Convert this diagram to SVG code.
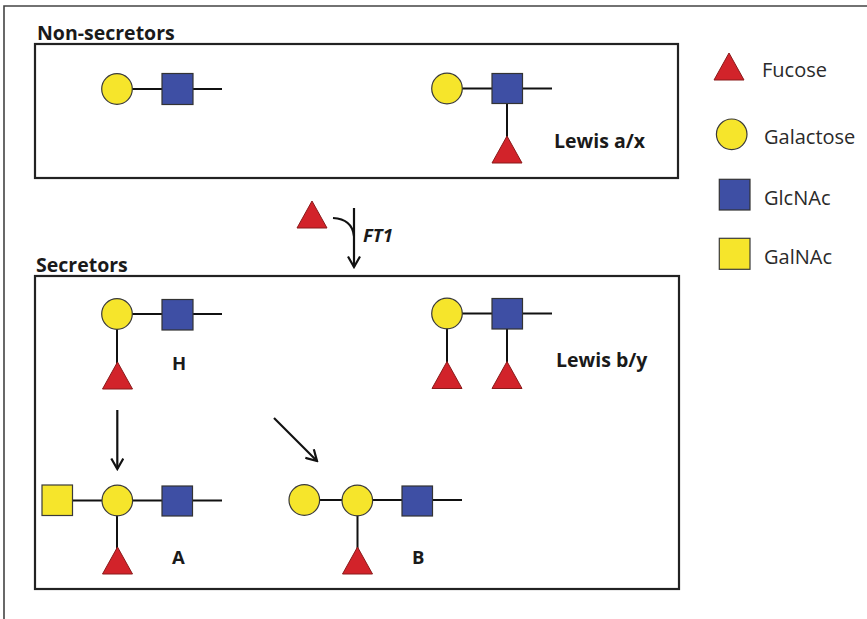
<svg xmlns="http://www.w3.org/2000/svg" width="867" height="619" viewBox="0 0 867 619">
  <style>
    .frame { fill: none; stroke: #222; stroke-width: 2.2; }
    .outer { fill: none; stroke: #444; stroke-width: 1.6; }
    .bond { stroke: #111; stroke-width: 2; fill: none; }
    .gal { fill: #f6e52b; stroke: #3a3a3a; stroke-width: 1.2; }
    .glcnac { fill: #3e4fa4; stroke: #333; stroke-width: 1.2; }
    .galnac { fill: #f6e52b; stroke: #3a3a3a; stroke-width: 1.2; }
    .fuc { fill: #d2232a; stroke: #8a1a1a; stroke-width: 1; }
    .title { font-family: "Open Sans", "Liberation Sans", sans-serif; font-weight: 700; font-size: 19.5px; fill: #1a1a1a; }
    .label { font-family: "Open Sans", "Liberation Sans", sans-serif; font-weight: 700; font-size: 18.5px; fill: #1a1a1a; }
    .legend { font-family: "Open Sans", "Liberation Sans", sans-serif; font-size: 20px; fill: #2a2a2a; }
    .arrow { stroke: #111; stroke-width: 2.2; fill: none; }
  </style>
  <defs>
    <marker id="chevron" viewBox="0 0 14 14" refX="12" refY="7" markerWidth="14" markerHeight="14" markerUnits="userSpaceOnUse" orient="auto">
      <path d="M1.5,1 L12,7 L1.5,13" fill="none" stroke="#111" stroke-width="2.2"/>
    </marker>
    <polygon id="tri" points="0,-14 15,13 -15,13"/>
  </defs>

  <rect width="867" height="619" fill="#ffffff"/>
  <!-- outer frame (top and left edges only) -->
  <path class="outer" d="M4,619 L4,6 L867,6"/>

  <!-- Non-secretors panel -->
  <g id="panel-nonsecretors">
    <text class="title" x="37" y="40">Non-secretors</text>
    <rect class="frame" x="35" y="44" width="643" height="134"/>
  </g>

  <g id="type1-precursor">
    <path class="bond" d="M117,89 H222"/>
    <circle class="gal" cx="117" cy="89" r="15.3"/>
    <rect class="glcnac" x="162" y="73.5" width="31" height="31"/>
  </g>

  <g id="lewis-ax">
    <path class="bond" d="M447,88.5 H552 M507,88 V140"/>
    <circle class="gal" cx="447" cy="88.5" r="15.3"/>
    <rect class="glcnac" x="492" y="73.5" width="30.5" height="30"/>
    <use href="#tri" class="fuc" x="507" y="150"/>
    <text class="title" x="554" y="148">Lewis a/x</text>
  </g>

  <!-- Secretors panel -->
  <g id="panel-secretors">
    <text class="title" x="36" y="272">Secretors</text>
    <rect class="frame" x="35" y="276" width="644" height="313"/>
  </g>

  <g id="h-antigen">
    <path class="bond" d="M117,314 H222 M117,314 V366"/>
    <circle class="gal" cx="117" cy="314" r="15.3"/>
    <rect class="glcnac" x="162" y="299.5" width="31" height="30.5"/>
    <use href="#tri" class="fuc" x="117.5" y="376"/>
    <text class="label" x="172" y="370">H</text>
  </g>

  <g id="lewis-by">
    <path class="bond" d="M447,313.5 H552 M447,313.5 V366 M507,313.5 V366"/>
    <circle class="gal" cx="447" cy="313.5" r="15.3"/>
    <rect class="glcnac" x="492" y="298.5" width="30.5" height="30.5"/>
    <use href="#tri" class="fuc" x="447" y="375.5"/>
    <use href="#tri" class="fuc" x="507" y="375.5"/>
    <text class="title" x="556" y="367">Lewis b/y</text>
  </g>

  <g id="a-antigen">
    <path class="bond" d="M57,500.5 H222 M117,500.5 V552"/>
    <rect class="galnac" x="42" y="485" width="30.5" height="30.5"/>
    <circle class="gal" cx="117.3" cy="500.5" r="15.3"/>
    <rect class="glcnac" x="162" y="486" width="30.5" height="30"/>
    <use href="#tri" class="fuc" x="117.5" y="561"/>
    <text class="label" x="172" y="564">A</text>
  </g>

  <g id="b-antigen">
    <path class="bond" d="M304,500 H462 M357.5,500 V552"/>
    <circle class="gal" cx="304.3" cy="500" r="15.3"/>
    <circle class="gal" cx="357.3" cy="500.5" r="15.3"/>
    <rect class="glcnac" x="402" y="486" width="30.5" height="30"/>
    <use href="#tri" class="fuc" x="357.5" y="561"/>
    <text class="label" x="412" y="564">B</text>
  </g>

  <g id="ft1-donor">
    <use href="#tri" class="fuc" x="312" y="215"/>
    <text class="label" x="363" y="242" font-style="italic">FT1</text>
  </g>

  <!-- reaction arrows -->
  <g id="connectors">
    <path class="arrow" d="M354,208 V267" marker-end="url(#chevron)"/>
    <path class="arrow" d="M333,218 Q352,219 354,236"/>
    <path class="arrow" d="M117.3,410 V469" marker-end="url(#chevron)"/>
    <path class="arrow" d="M274,418 L317,461" marker-end="url(#chevron)"/>
  </g>

  <!-- legend -->
  <g id="legend-fucose">
    <use href="#tri" class="fuc" x="729" y="67"/>
    <text class="legend" x="762" y="77">Fucose</text>
  </g>
  <g id="legend-galactose">
    <circle class="gal" cx="731.7" cy="134.3" r="15.3"/>
    <text class="legend" x="764" y="144">Galactose</text>
  </g>
  <g id="legend-glcnac">
    <rect class="glcnac" x="719.3" y="179.3" width="30.7" height="30.7"/>
    <text class="legend" x="764" y="205">GlcNAc</text>
  </g>
  <g id="legend-galnac">
    <rect class="galnac" x="719.3" y="238.3" width="30.7" height="31"/>
    <text class="legend" x="764" y="264">GalNAc</text>
  </g>
</svg>
